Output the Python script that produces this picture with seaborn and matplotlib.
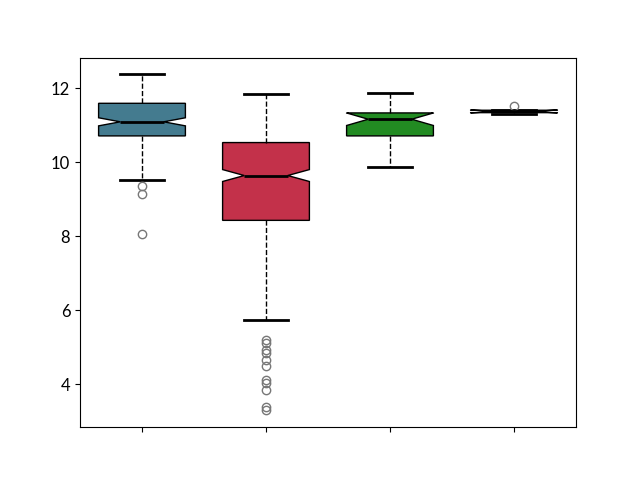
import matplotlib
matplotlib.use("Agg")
from matplotlib import pyplot as plt
import seaborn as sns
import numpy as np
import pandas as pd

GROUPS = ["A", "B", "C", "D"]
BOX_COLORS = ["#447b8f", "#c3314a", "#228b22", "#111111"]

# group A: value / count table
A_VALUES = [8.05, 9.14, 9.36, 9.51, 9.9, 10.25, 10.5, 10.71, 10.85, 10.98,
            11.09, 11.25, 11.42, 11.59, 11.8, 12.0, 12.2, 12.37]
A_COUNTS = [1, 1, 1, 1, 8, 12, 12, 8, 18, 15,
            6, 18, 15, 8, 16, 12, 7, 1]

# group B
B_VALUES = [3.30, 3.38, 3.84, 4.03, 4.11, 4.51, 4.65, 4.84, 4.92, 5.11, 5.19,
            5.73, 6.3, 6.9, 7.5, 8.0, 8.43, 8.8, 9.2, 9.45, 9.64,
            9.9, 10.2, 10.53, 10.8, 11.1, 11.4, 11.65, 11.83]
B_COUNTS = [1, 1, 1, 1, 1, 1, 1, 1, 1, 1, 1,
            1, 8, 20, 30, 30, 10, 40, 40, 18, 6,
            40, 56, 10, 40, 30, 20, 9, 1]

# group C
C_VALUES = [9.86, 10.1, 10.3, 10.45, 10.55, 10.6, 10.65, 10.68, 10.71, 10.8,
            10.9, 10.95, 11.0, 11.05, 11.1, 11.13, 11.16, 11.18, 11.2, 11.22,
            11.24, 11.26, 11.28, 11.3, 11.33, 11.4, 11.45, 11.5, 11.55, 11.6,
            11.68, 11.76, 11.86]

# group D
D_VALUES = [11.30, 11.33, 11.36, 11.38, 11.41, 11.52]

values = np.concatenate([
    np.repeat(A_VALUES, A_COUNTS),
    np.repeat(B_VALUES, B_COUNTS),
    np.array(C_VALUES),
    np.array(D_VALUES),
])
groups = (["A"] * sum(A_COUNTS) + ["B"] * sum(B_COUNTS)
          + ["C"] * len(C_VALUES) + ["D"] * len(D_VALUES))
df = pd.DataFrame({"group": groups, "value": values})

plt.rcParams["font.family"] = ["Lato", "DejaVu Sans"]

fig, ax = plt.subplots(figsize=(6.4, 4.8), dpi=100)

sns.boxplot(
    data=df,
    x="group",
    y="value",
    hue="group",
    order=GROUPS,
    hue_order=GROUPS,
    palette=BOX_COLORS,
    saturation=1,
    notch=True,
    width=0.7,
    linecolor="black",
    linewidth=1,
    whiskerprops=dict(linestyle="--"),
    capprops=dict(linewidth=2),
    medianprops=dict(linewidth=2, color="black"),
    flierprops=dict(marker="o", markeredgecolor="#777777",
                    markerfacecolor="none", markersize=6),
    legend=False,
    ax=ax,
)

ax.set_xlabel("")
ax.set_ylabel("")
ax.set_xticks(range(len(GROUPS)))
ax.set_xticklabels([])
ax.tick_params(labelsize=12)

fig.savefig("out.png", dpi=100)
